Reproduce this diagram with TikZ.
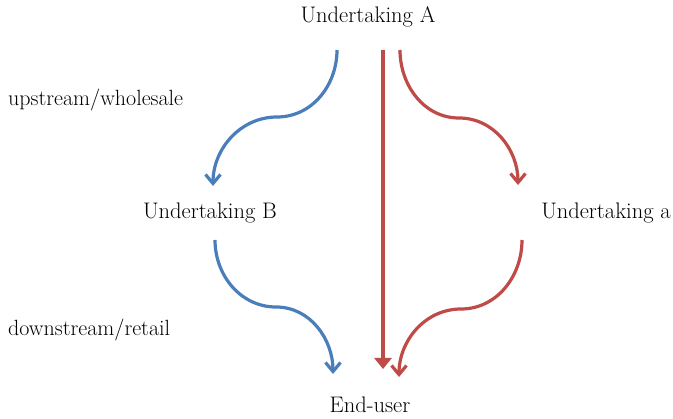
\documentclass[tikz,border=0pt]{standalone}
\usepackage{tikz}
\usetikzlibrary{arrows.meta}
\definecolor{flowblue}{RGB}{74,126,187}
\definecolor{flowred}{RGB}{190,75,72}
\tikzset{
	party/.style={font=\fontsize{22.5}{27}\selectfont, inner sep=0pt},
	levelnote/.style={font=\fontsize{22}{26}\selectfont, inner sep=0pt, anchor=west},
	bendflow/.style={line width=3.2pt, -{Straight Barb[length=9pt,width=15pt]}},
	directflow/.style={line width=3.2pt, -{Triangle[length=11pt,width=17pt]}}
}

\begin{document}
\begin{tikzpicture}[x=1pt, y=1pt]
			%%%%% START %%%%%
			\useasboundingbox (0,0) rectangle (673,-419);
			
			\node[party] (undA) at (368,-17) {Undertaking A};
			\node[party] (undB) at (210,-213) {Undertaking B};
			\node[party] (unda) at (606,-213) {Undertaking a};
			\node[party] (enduser) at (370,-405) {End-user};
			
			\node[levelnote] (upstream) at (8,-100) {upstream/wholesale};
			\node[levelnote] (downstream) at (8,-330) {downstream/retail};
			
			% upper level
			\coordinate (AtoB) at (337,-50);
			\coordinate (AtoBmid) at (277,-117);
			\coordinate (BfromA) at (213,-186);
			\coordinate (Atoa) at (400,-50);
			\coordinate (Atoamid) at (459,-118);
			\coordinate (afromA) at (518,-185);
			\coordinate (Adirect) at (383,-50);
			\coordinate (Edirect) at (383,-369);
			
			\draw[bendflow, color=flowblue] (AtoB) to[out=-90, in=0] (AtoBmid) to[out=180, in=90] (BfromA);
			\draw[bendflow, color=flowred] (Atoa) to[out=-90, in=180] (Atoamid) to[out=0, in=90] (afromA);
			\draw[directflow, color=flowred] (Adirect) -- (Edirect);
			
			% lower level
			\coordinate (BtoE) at (215,-240);
			\coordinate (BtoEmid) at (276,-307);
			\coordinate (EfromB) at (333,-374);
			\coordinate (atoE) at (522,-240);
			\coordinate (atoEmid) at (461,-309);
			\coordinate (Efroma) at (399,-377);
			
			\draw[bendflow, color=flowblue] (BtoE) to[out=-90, in=180] (BtoEmid) to[out=0, in=90] (EfromB);
			\draw[bendflow, color=flowred] (atoE) to[out=-90, in=0] (atoEmid) to[out=180, in=90] (Efroma);
			
			%%%%% END %%%%%
\end{tikzpicture}
\end{document}
